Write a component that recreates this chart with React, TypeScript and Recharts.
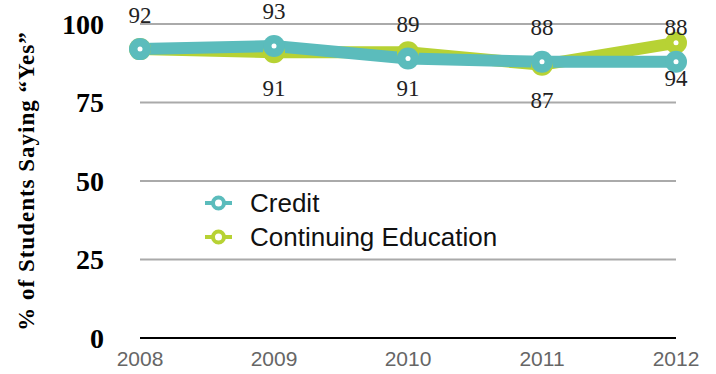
import { LineChart, Line, XAxis, YAxis, CartesianGrid, LabelList } from 'recharts';

const years = ['2008', '2009', '2010', '2011', '2012'];
const credit = [92, 93, 89, 88, 88];
const continuing = [92, 91, 91, 87, 94];
const yTicks = [0, 25, 50, 75, 100];

const TEAL = '#5bbcbc';
const LIME = '#b7d234';

const data = years.map((year, i) => ({ year, credit: credit[i], continuing: continuing[i] }));

const makeDot = (color: string) => (props: any) => {
  const { cx, cy, index } = props;
  if (cx == null || cy == null) return <g key={index} />;
  return (
    <g key={index}>
      <circle cx={cx} cy={cy} r={11} fill={color} />
      <circle cx={cx} cy={cy} r={2.5} fill="#fff" />
    </g>
  );
};

const makeLabel = (dy: number, skipFirst: boolean) => (props: any) => {
  const { x, y, value, index } = props;
  if (skipFirst && index === 0) return null;
  return (
    <text
      x={x}
      y={y + dy}
      textAnchor="middle"
      dominantBaseline="central"
      fontFamily="'Liberation Serif', serif"
      fontSize={23}
      fill="#222"
    >
      {value}
    </text>
  );
};

const LegendBox = () => {
  const items = [
    { name: 'Credit', color: TEAL },
    { name: 'Continuing Education', color: LIME },
  ];
  return (
    <div style={{ position: 'absolute', left: 204, top: 186 }}>
      {items.map((it) => (
        <div key={it.name} style={{ display: 'flex', alignItems: 'center', height: 34 }}>
          <svg width={30} height={20} style={{ marginRight: 16 }}>
            <line x1={1} y1={10} x2={28} y2={10} stroke={it.color} strokeWidth={4} />
            <circle cx={14.5} cy={10} r={5.5} fill="#fff" stroke={it.color} strokeWidth={4} />
          </svg>
          <span
            style={{
              fontFamily: "'Liberation Sans', Arial, sans-serif",
              fontSize: 26,
              lineHeight: 1,
              color: '#111',
            }}
          >
            {it.name}
          </span>
        </div>
      ))}
    </div>
  );
};

const App = () => {
  return (
    <div style={{ position: 'absolute', left: 0, top: 0, width: 716, height: 374, background: '#fff' }}>
      <LineChart width={716} height={374} data={data} margin={{ top: 24, right: 40, bottom: 0, left: 0 }}>
        <CartesianGrid horizontal vertical={false} stroke="#aaaaaa" strokeWidth={2} />
        <XAxis
          dataKey="year"
          height={36}
          axisLine={{ stroke: '#000', strokeWidth: 2 }}
          tickLine={false}
          tickSize={0}
          tickMargin={13}
          tick={{ fill: '#666', fontSize: 21, fontFamily: "'Liberation Sans', Arial, sans-serif" }}
        />
        <YAxis
          width={140}
          domain={[0, 100]}
          ticks={yTicks}
          axisLine={false}
          tickLine={false}
          tickSize={0}
          tickMargin={36}
          tick={{ fill: '#000', fontSize: 28, fontWeight: 700, fontFamily: "'Liberation Serif', serif" }}
          label={{
            content: () => (
              <text
                x={26}
                y={181}
                transform="rotate(-90 26 181)"
                textAnchor="middle"
                dominantBaseline="central"
                fontFamily="'Liberation Serif', serif"
                fontWeight={700}
                fontSize={23}
                letterSpacing={1}
                fill="#000"
              >
                % of Students Saying “Yes”
              </text>
            ),
          }}
        />
        <Line
          dataKey="continuing"
          name="Continuing Education"
          stroke={LIME}
          strokeWidth={12}
          dot={makeDot(LIME)}
          activeDot={false}
          isAnimationActive={false}
        >
          <LabelList dataKey="continuing" content={makeLabel(36, true)} />
        </Line>
        <Line
          dataKey="credit"
          name="Credit"
          stroke={TEAL}
          strokeWidth={12}
          dot={makeDot(TEAL)}
          activeDot={false}
          isAnimationActive={false}
        >
          <LabelList dataKey="credit" content={makeLabel(-34, false)} />
        </Line>
      </LineChart>
      <LegendBox />
    </div>
  );
};

export default App;
